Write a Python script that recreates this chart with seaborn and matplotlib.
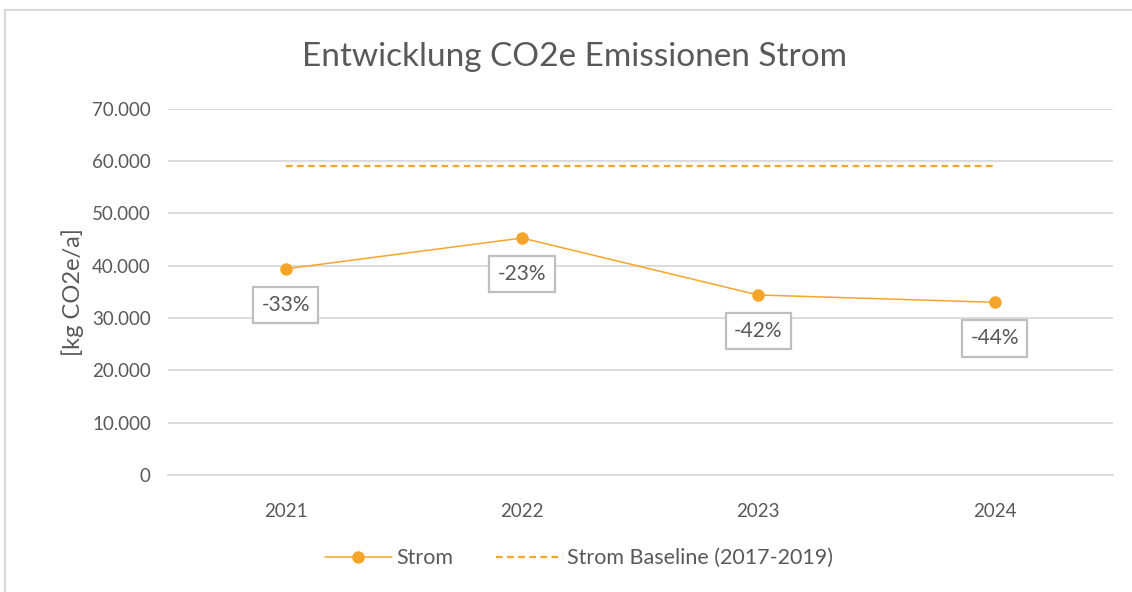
import matplotlib
matplotlib.use("Agg")
import matplotlib.pyplot as plt
import seaborn as sns
import pandas as pd
from matplotlib.lines import Line2D
from matplotlib.ticker import FuncFormatter

years = ["2021", "2022", "2023", "2024"]
strom = [39400, 45300, 34400, 33000]
baseline = [59100, 59100, 59100, 59100]
labels = ["-33%", "-23%", "-42%", "-44%"]
yticks = [0, 10000, 20000, 30000, 40000, 50000, 60000, 70000]

sns.set_theme(style="white")
plt.rcParams['font.family'] = ['Lato', 'DejaVu Sans']

ORANGE = "#F7A52A"
GRAY = "#595959"
GRID = "#D9D9D9"

df = pd.DataFrame({"Jahr": years, "Strom": strom, "Baseline": baseline})

fig = plt.figure(figsize=(11.32, 5.92), dpi=100)
ax = fig.add_axes([0.148, 0.198, 0.835, 0.618])

sns.lineplot(data=df, x="Jahr", y="Baseline", ax=ax, color=ORANGE, lw=1.6,
             dashes=False, sort=False)
ax.lines[-1].set_dashes((3, 2))
sns.lineplot(data=df, x="Jahr", y="Strom", ax=ax, color=ORANGE, lw=1.1,
             marker="o", markersize=9, markeredgewidth=0, sort=False)

for i, (v, t) in enumerate(zip(strom, labels)):
    ax.annotate(t, (i, v), xytext=(0, -26), textcoords="offset points",
                ha="center", va="center", fontsize=15, color=GRAY,
                bbox=dict(boxstyle="square,pad=0.4", fc="white", ec="#BFBFBF", lw=1.6))

ax.set_xlim(-0.5, 3.5)
ax.set_ylim(0, 70000)
ax.set_yticks(yticks)
ax.yaxis.set_major_formatter(FuncFormatter(lambda v, p: f"{int(v):,}".replace(",", ".")))
ax.grid(axis="y", color=GRID, lw=1.3)
ax.set_axisbelow(True)
for s in ["top", "right", "left"]:
    ax.spines[s].set_visible(False)
ax.spines["bottom"].set_color(GRID)
ax.spines["bottom"].set_linewidth(1.3)
ax.tick_params(axis="both", colors=GRAY, labelsize=13.5, length=0, pad=12)
ax.tick_params(axis="x", pad=20)
ax.set_xlabel("")
ax.set_ylabel("[kg CO2e/a]", fontsize=17, color=GRAY, labelpad=6)
fig.text(575 / 1132, 1 - 57 / 592, "Entwicklung CO2e Emissionen Strom",
         fontsize=24, color=GRAY, ha="center", va="center")

handles = [Line2D([], [], color=ORANGE, lw=1.1, marker="o", markersize=9, markeredgewidth=0),
           Line2D([], [], color=ORANGE, lw=1.6, dashes=(3, 2))]
fig.legend(handles, ["Strom", "Strom Baseline (2017-2019)"], loc="center",
           bbox_to_anchor=(579 / 1132, 0.057), ncol=2, frameon=False, fontsize=15.5,
           labelcolor=GRAY, handlelength=3.1, handletextpad=0.2, columnspacing=2.0)

# outer chart border (left & top)
fig.add_artist(Line2D([5/1132, 5/1132], [0, 1 - 10/592], transform=fig.transFigure, color=GRID, lw=1.5))
fig.add_artist(Line2D([5/1132, 1], [1 - 10/592, 1 - 10/592], transform=fig.transFigure, color=GRID, lw=1.5))

fig.savefig("out.png", dpi=100)
